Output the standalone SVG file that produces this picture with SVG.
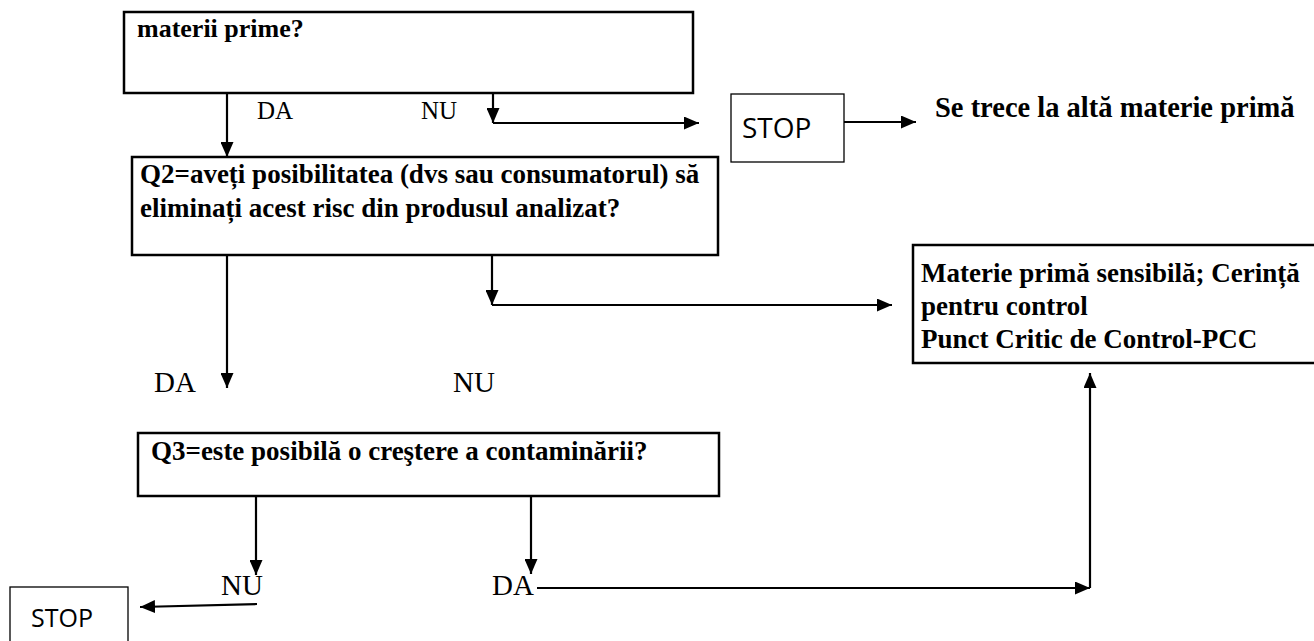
<svg xmlns="http://www.w3.org/2000/svg" width="1314" height="641" viewBox="0 0 1314 641">
<style>
.box{fill:#fff;stroke:#000;stroke-width:2.5}
.thin{fill:#fff;stroke:#000;stroke-width:1.3}
.b{font-family:"Liberation Serif","Times New Roman",serif;font-weight:bold;font-size:27px;fill:#000}
.r{font-family:"Liberation Serif","Times New Roman",serif;font-size:29px;fill:#000}
.rs{font-family:"Liberation Serif","Times New Roman",serif;font-size:25px;fill:#000}
.s{font-family:"Open Sans","Liberation Sans",sans-serif;fill:#000}
.c{fill:none;stroke:#000;stroke-width:2.2}
</style>
<defs>
<marker id="ah" markerUnits="userSpaceOnUse" markerWidth="16" markerHeight="13" viewBox="0 0 16 13" refX="15" refY="6.5" orient="auto">
<path d="M0,0 L15,6.5 L0,13 z" fill="#000"/>
</marker>
</defs>
<rect width="1314" height="641" fill="#fff"/>
<g id="q1">
<rect class="box" x="124" y="12" width="569" height="81"/>
<text class="b" x="137" y="37" style="font-size:26px">materii prime?</text>
</g>
<g id="stop1">
<rect class="thin" x="731" y="94" width="113" height="68"/>
<text class="s" x="742" y="138" style="font-size:28px">STOP</text>
</g>
<g id="next">
<text class="b" x="935" y="117" style="font-size:28.5px">Se trece la altă materie primă</text>
</g>
<g id="q2">
<rect class="box" x="132" y="157" width="586" height="98"/>
<text class="b" x="140" y="183">Q2=aveți posibilitatea (dvs sau consumatorul) să</text>
<text class="b" x="140" y="217">eliminați acest risc din produsul analizat?</text>
</g>
<g id="pcc">
<rect class="box" x="913" y="245" width="410" height="118"/>
<text class="b" x="921" y="282">Materie primă sensibilă; Cerință</text>
<text class="b" x="921" y="315">pentru control</text>
<text class="b" x="921" y="348">Punct Critic de Control-PCC</text>
</g>
<g id="q3">
<rect class="box" x="138" y="433" width="581" height="63"/>
<text class="b" x="151" y="460">Q3=este posibilă o creştere a contaminării?</text>
</g>
<g id="stop2">
<rect class="thin" x="10" y="587" width="118" height="70"/>
<text class="s" x="31" y="627" style="font-size:25px">STOP</text>
</g>
<g id="labels">
<text class="rs" x="257" y="119">DA</text>
<text class="rs" x="421" y="119">NU</text>
<text class="r" x="154" y="392">DA</text>
<text class="r" x="453" y="392">NU</text>
<text class="r" x="221" y="595">NU</text>
<text class="r" x="492" y="595">DA</text>
</g>
<g id="connectors">
<line class="c" x1="227" y1="93" x2="227" y2="157" marker-end="url(#ah)"/>
<line class="c" x1="493" y1="93" x2="493" y2="123" marker-end="url(#ah)"/>
<line class="c" x1="493" y1="123" x2="699" y2="123" marker-end="url(#ah)"/>
<line class="c" x1="844" y1="122" x2="916" y2="122" marker-end="url(#ah)"/>
<line class="c" x1="227" y1="255" x2="227" y2="388" marker-end="url(#ah)"/>
<line class="c" x1="492" y1="255" x2="492" y2="305" marker-end="url(#ah)"/>
<line class="c" x1="492" y1="305" x2="892" y2="305" marker-end="url(#ah)"/>
<line class="c" x1="256" y1="496" x2="256" y2="575" marker-end="url(#ah)"/>
<line class="c" x1="531" y1="496" x2="531" y2="574" marker-end="url(#ah)"/>
<line class="c" x1="257" y1="604" x2="140" y2="607" marker-end="url(#ah)"/>
<line class="c" x1="537" y1="588" x2="1090" y2="588" marker-end="url(#ah)"/>
<line class="c" x1="1090" y1="588" x2="1090" y2="373" marker-end="url(#ah)"/>
</g>
</svg>
